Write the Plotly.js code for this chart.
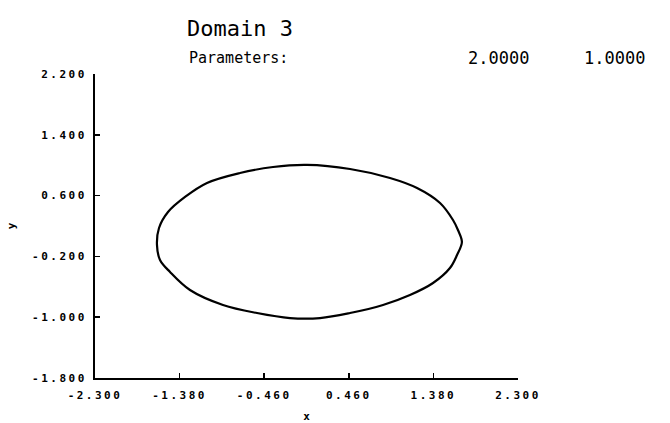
<!DOCTYPE html>
<html>
<head>
<meta charset="utf-8">
<script src="https://cdn.plot.ly/plotly-3.0.1.min.js"></script>
<style>
  html, body { margin: 0; padding: 0; background: #fff; }
  #chart { width: 670px; height: 423px; }
  .xtick text, .ytick text { letter-spacing: 2.5px; }
</style>
</head>
<body>
<div id="chart"></div>
<script>
// Orbit points (x, y)
const orbitX = [1.690, 1.647, 1.593, 1.452, 1.202, 0.908, 0.473, 0.005, -0.364, -0.723,
                -1.082, -1.321, -1.506, -1.604, -1.626, -1.593, -1.484, -1.267, -0.908, -0.538,
                -0.179, 0.147, 0.473, 0.832, 1.125, 1.376, 1.560, 1.637, 1.690];
const orbitY = [-0.011, 0.147, 0.279, 0.503, 0.700, 0.832, 0.950, 1.003, 0.976, 0.897,
                0.766, 0.582, 0.384, 0.174, -0.050, -0.247, -0.405, -0.642, -0.839, -0.945,
                -1.011, -1.011, -0.945, -0.839, -0.708, -0.550, -0.353, -0.182, -0.011];

// Axis ticks
const xTickVals = [-2.3, -1.38, -0.46, 0.46, 1.38, 2.3];
const xTickText = ["-2.300", "-1.380", "-0.460", "0.460", "1.380", "2.300"];
const yTickVals = [2.2, 1.4, 0.6, -0.2, -1.0, -1.8];
const yTickText = ["2.200", "1.400", "0.600", "-0.200", "-1.000", "-1.800"];

const titleText = "Domain 3";
const paramLabel = "Parameters:";
const paramValues = ["2.0000", "1.0000"];

const mono = "DejaVu Sans Mono, monospace";

const trace = {
  x: orbitX, y: orbitY,
  type: "scatter", mode: "lines",
  line: { color: "#000", width: 2.2, shape: "spline", smoothing: 1 },
  hoverinfo: "skip"
};

const layout = {
  width: 670, height: 423,
  margin: { l: 95, r: 152, t: 74, b: 45 },
  paper_bgcolor: "#fff", plot_bgcolor: "#fff",
  showlegend: false,
  title: {
    text: titleText,
    font: { family: mono, size: 22, color: "#000" },
    x: 187 / 670, xanchor: "left", xref: "container",
    y: 1 - 28 / 423, yanchor: "middle", yref: "container"
  },
  xaxis: {
    range: [-2.3, 2.3],
    showgrid: false, zeroline: false,
    showline: true, linecolor: "#000", linewidth: 2,
    ticks: "inside", ticklen: 5, tickwidth: 1.5, tickcolor: "#000",
    tickvals: xTickVals, ticktext: xTickText,
    tickfont: { family: mono, size: 11, color: "#000", weight: "bold" },
    ticklabelstandoff: 6,
    title: { text: "x", font: { family: mono, size: 11, color: "#000", weight: "bold" }, standoff: 11 }
  },
  yaxis: {
    range: [-1.8, 2.2],
    showgrid: false, zeroline: false,
    showline: true, linecolor: "#000", linewidth: 2,
    ticks: "inside", ticklen: 5, tickwidth: 1.5, tickcolor: "#000",
    tickvals: yTickVals, ticktext: yTickText,
    tickfont: { family: mono, size: 11, color: "#000", weight: "bold" },
    ticklabelstandoff: 4,
    title: { text: "y", font: { family: mono, size: 11, color: "#000", weight: "bold" }, standoff: 14 }
  },
  annotations: [
    { text: paramLabel, xref: "paper", yref: "paper", x: (187 - 95) / 423, y: (378 - 58) / 304,
      xanchor: "left", yanchor: "middle", showarrow: false,
      font: { family: mono, size: 15, color: "#000" } },
    { text: paramValues[0], xref: "paper", yref: "paper", x: (466 - 95) / 423, y: (378 - 58) / 304,
      xanchor: "left", yanchor: "middle", showarrow: false,
      font: { family: mono, size: 17, color: "#000" } },
    { text: paramValues[1], xref: "paper", yref: "paper", x: (582 - 95) / 423, y: (378 - 58) / 304,
      xanchor: "left", yanchor: "middle", showarrow: false,
      font: { family: mono, size: 17, color: "#000" } }
  ]
};

Plotly.newPlot("chart", [trace], layout, { staticPlot: true, displayModeBar: false });
</script>
</body>
</html>
